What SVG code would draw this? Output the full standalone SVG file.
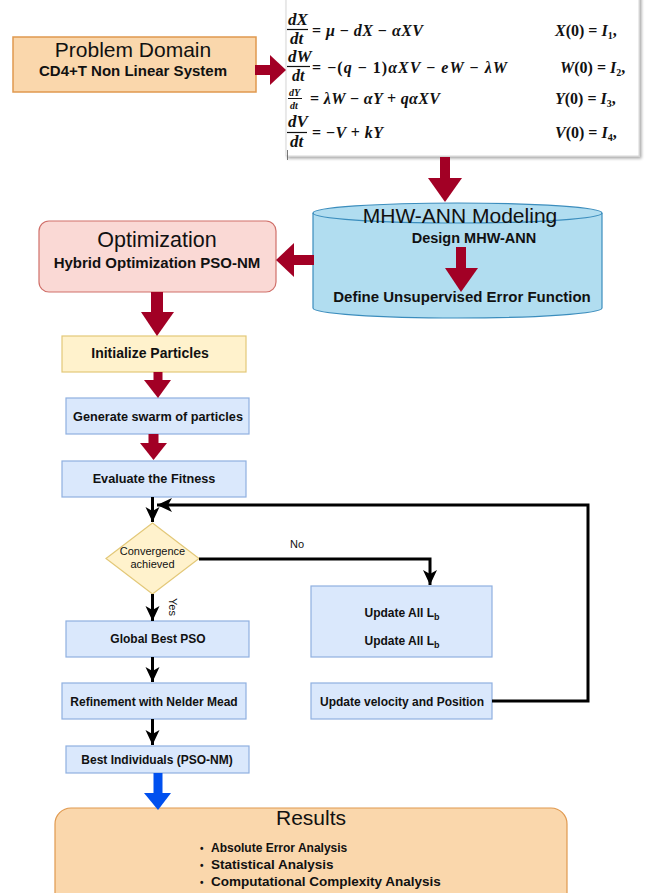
<svg xmlns="http://www.w3.org/2000/svg" width="647" height="893" viewBox="0 0 647 893">
<defs>
<style>
.sans{font-family:"Liberation Sans",Arial,sans-serif;fill:#111}
.b{font-weight:bold}
.m{font-family:"Liberation Serif","Times New Roman",serif;font-weight:bold;font-style:italic;fill:#111}
.u{font-style:normal}
.red{fill:#a20025}
.blu{fill:#dae8fc;stroke:#8fb0e0;stroke-width:1.2}
.conn{fill:none;stroke:#000;stroke-width:3}
</style>
<marker id="ah" markerUnits="userSpaceOnUse" markerWidth="16" markerHeight="16" viewBox="0 0 16 16" refX="15" refY="8" orient="auto">
<path d="M0,1 L15,8 L0,15 L4,8 Z" fill="#000"/>
</marker>
<filter id="sh" x="-5%" y="-5%" width="115%" height="115%">
<feGaussianBlur in="SourceAlpha" stdDeviation="1.5"/>
<feOffset dx="2" dy="2" result="o"/>
<feComponentTransfer><feFuncA type="linear" slope="0.35"/></feComponentTransfer>
<feMerge><feMergeNode/><feMergeNode in="SourceGraphic"/></feMerge>
</filter>
</defs>
<rect width="647" height="893" fill="#fff"/>

<g id="problem-domain">
<rect x="13" y="37" width="243" height="55" fill="#fad7ac" stroke="#e0994f" stroke-width="1.5"/>
<text class="sans" x="133" y="57" font-size="21" text-anchor="middle">Problem Domain</text>
<text class="sans b" x="133" y="76" font-size="15" text-anchor="middle">CD4+T  Non Linear System</text>
</g>

<g id="equations">
<rect x="286" y="-6" width="353" height="162" fill="#fff" stroke="#d6d6d6" filter="url(#sh)"/>
<line x1="287.5" y1="150" x2="287.5" y2="160" stroke="#555" stroke-width="0.8"/>
<text class="m" x="288" y="25" font-size="17">dX</text>
<line x1="287" y1="29.5" x2="308" y2="29.5" stroke="#111" stroke-width="1.2"/>
<text class="m" x="290" y="44" font-size="17">dt</text>
<text class="m" x="312" y="36" font-size="16" textLength="111" lengthAdjust="spacing"><tspan class="u">=</tspan> μ <tspan class="u">−</tspan> dX <tspan class="u">−</tspan> αXV</text>
<text class="m" x="555" y="36" font-size="16">X<tspan class="u">(0) =</tspan> I<tspan font-size="10" dy="3" class="u">1</tspan><tspan dy="-3" class="u">,</tspan></text>

<text class="m" x="288" y="62" font-size="17">dW</text>
<line x1="287" y1="66.5" x2="310" y2="66.5" stroke="#111" stroke-width="1.2"/>
<text class="m" x="292" y="81" font-size="16">dt</text>
<text class="m" x="312" y="73" font-size="16" textLength="195" lengthAdjust="spacing"><tspan class="u">= −(</tspan>q <tspan class="u">− 1)</tspan>αXV <tspan class="u">−</tspan> eW <tspan class="u">−</tspan> λW</text>
<text class="m" x="560" y="73" font-size="16">W<tspan class="u">(0) =</tspan> I<tspan font-size="10" dy="3" class="u">2</tspan><tspan dy="-3" class="u">,</tspan></text>

<text class="m" x="289" y="96" font-size="10">dY</text>
<line x1="288" y1="98.5" x2="302" y2="98.5" stroke="#111" stroke-width="1"/>
<text class="m" x="290" y="109" font-size="10">dt</text>
<text class="m" x="310" y="104" font-size="16" textLength="130" lengthAdjust="spacing"><tspan class="u">=</tspan> λW <tspan class="u">−</tspan> αY <tspan class="u">+</tspan> qαXV</text>
<text class="m" x="555" y="104" font-size="16">Y<tspan class="u">(0) =</tspan> I<tspan font-size="10" dy="3" class="u">3</tspan><tspan dy="-3" class="u">,</tspan></text>

<text class="m" x="288" y="127" font-size="17">dV</text>
<line x1="287" y1="132.5" x2="307" y2="132.5" stroke="#111" stroke-width="1.2"/>
<text class="m" x="290" y="147" font-size="17">dt</text>
<text class="m" x="312" y="138" font-size="16" textLength="71" lengthAdjust="spacing"><tspan class="u">= −</tspan>V <tspan class="u">+</tspan> kY</text>
<text class="m" x="555" y="138" font-size="16">V<tspan class="u">(0) =</tspan> I<tspan font-size="10" dy="3" class="u">4</tspan><tspan dy="-3" class="u">,</tspan></text>
</g>

<g id="mhw-ann-modeling">
<path d="M313,213 L313,308 A144.5,10 0 0 0 602,308 L602,213 A144.5,10 0 0 0 313,213 Z" fill="#b1ddf0" stroke="#3b8dbd" stroke-width="1.2"/>
<path d="M313,213 A144.5,10 0 0 0 602,213" fill="none" stroke="#3b8dbd" stroke-width="1.2"/>
<text class="sans" x="460" y="223" font-size="21" text-anchor="middle">MHW-ANN Modeling</text>
<text class="sans b" x="474" y="243" font-size="14.5" text-anchor="middle">Design MHW-ANN</text>
<rect class="red" x="456" y="247" width="10" height="21"/>
<polygon class="red" points="445,268 478,268 461,292"/>
<text class="sans b" x="462" y="302" font-size="15" text-anchor="middle">Define Unsupervised Error Function</text>
</g>

<g id="optimization">
<rect x="39" y="221" width="237" height="71" rx="10" fill="#fad9d5" stroke="#d0706a" stroke-width="1.2"/>
<text class="sans" x="157" y="247" font-size="21.5" text-anchor="middle">Optimization</text>
<text class="sans b" x="157" y="268" font-size="15" text-anchor="middle">Hybrid Optimization PSO-NM</text>
</g>

<g id="initialize-particles">
<rect x="62" y="336" width="184" height="36" fill="#fff2cc" stroke="#e3c878" stroke-width="1.2"/>
<text class="sans b" x="150" y="358" font-size="14" text-anchor="middle">Initialize Particles</text>
</g>

<g id="generate-swarm">
<rect class="blu" x="66" y="398" width="183" height="36"/>
<text class="sans b" x="158" y="421" font-size="12.7" text-anchor="middle">Generate swarm of particles</text>
</g>

<g id="evaluate-fitness">
<rect class="blu" x="62" y="461" width="184" height="36"/>
<text class="sans b" x="154" y="483" font-size="12.7" text-anchor="middle">Evaluate the Fitness</text>
</g>

<g id="convergence">
<polygon points="152.5,523 199,558.5 152.5,594 106,558.5" fill="#fff2cc" stroke="#e3c878" stroke-width="1.2"/>
<text class="sans" x="152.5" y="555" font-size="11" text-anchor="middle">Convergence</text>
<text class="sans" x="152.5" y="568" font-size="11" text-anchor="middle">achieved</text>
</g>

<g id="global-best">
<rect class="blu" x="66" y="621" width="183" height="36"/>
<text class="sans b" x="158" y="643" font-size="12" text-anchor="middle">Global Best PSO</text>
</g>

<g id="update-all">
<rect class="blu" x="311" y="586" width="181" height="71"/>
<text class="sans b" x="402" y="617" font-size="12" text-anchor="middle">Update All L<tspan font-size="9" dy="3">b</tspan></text>
<text class="sans b" x="402" y="645" font-size="12" text-anchor="middle">Update All L<tspan font-size="9" dy="3">b</tspan></text>
</g>

<g id="refinement">
<rect class="blu" x="62" y="683" width="184" height="36"/>
<text class="sans b" x="154" y="706" font-size="12" text-anchor="middle">Refinement with Nelder Mead</text>
</g>

<g id="update-velocity">
<rect class="blu" x="311" y="683" width="181" height="36"/>
<text class="sans b" x="402" y="706" font-size="12" text-anchor="middle">Update velocity and Position</text>
</g>

<g id="best-individuals">
<rect class="blu" x="66" y="746" width="183" height="27"/>
<text class="sans b" x="157" y="764" font-size="12" text-anchor="middle">Best Individuals (PSO-NM)</text>
</g>

<g id="results">
<rect x="55" y="808" width="512" height="110" rx="16" fill="#fad7ac" stroke="#e0994f" stroke-width="1.2"/>
<text class="sans" x="311" y="825" font-size="21" text-anchor="middle">Results</text>
<text class="sans b" x="200" y="852" font-size="12"><tspan font-size="10">•</tspan> <tspan x="211">Absolute Error Analysis</tspan></text>
<text class="sans b" x="200" y="869" font-size="13.5"><tspan font-size="10">•</tspan> <tspan x="211">Statistical Analysis</tspan></text>
<text class="sans b" x="200" y="886" font-size="13.5"><tspan font-size="10">•</tspan> <tspan x="211">Computational Complexity Analysis</tspan></text>
</g>

<g id="connectors">
<rect class="red" x="255" y="65" width="16" height="10"/>
<polygon class="red" points="270,55 286,70 270,85"/>
<rect class="red" x="440" y="157" width="10" height="22"/>
<polygon class="red" points="428,178 462,178 445,202"/>
<rect class="red" x="291" y="255" width="23" height="10"/>
<polygon class="red" points="294,243 294,277 276,260"/>
<rect class="red" x="151" y="292" width="12" height="21"/>
<polygon class="red" points="141,312 174,312 157,336"/>
<rect class="red" x="153.5" y="372" width="9" height="9"/>
<polygon class="red" points="144,380 171,380 158,398"/>
<rect class="red" x="148.5" y="434" width="10" height="10"/>
<polygon class="red" points="140,443 167,443 153.5,460"/>
<rect x="153.5" y="773" width="9" height="21" fill="#0050ef"/>
<polygon points="144,793 171,793 158,810" fill="#0050ef"/>
<path class="conn" d="M152.5,497 V522" marker-end="url(#ah)"/>
<path class="conn" d="M492,701 H588 V505 H157" marker-end="url(#ah)"/>
<path class="conn" d="M199,559 H430 V585" marker-end="url(#ah)"/>
<text class="sans" x="297" y="548" font-size="11" text-anchor="middle">No</text>
<path class="conn" d="M152.5,594 V621" marker-end="url(#ah)"/>
<text class="sans" x="0" y="0" font-size="11" text-anchor="middle" transform="translate(169,607) rotate(90)">Yes</text>
<path class="conn" d="M152.5,657 V682" marker-end="url(#ah)"/>
<path class="conn" d="M152.5,719 V745" marker-end="url(#ah)"/>
</g>
</svg>
